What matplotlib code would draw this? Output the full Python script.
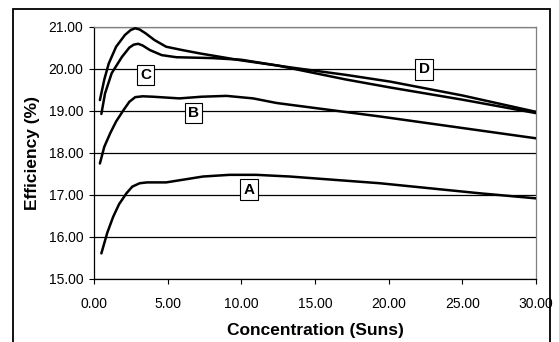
import matplotlib
matplotlib.use("Agg")
import matplotlib.pyplot as plt
from matplotlib.patches import Rectangle

plt.rcParams['font.family'] = ['Liberation Sans', 'DejaVu Sans']

# Curve A
a_x = [0.5, 0.9, 1.3, 1.7, 2.2, 2.6, 3.1, 3.6, 4.9, 7.4, 9.2, 11.0, 13.3, 19.4, 26.2, 30.0]
a_y = [15.61, 16.10, 16.48, 16.78, 17.04, 17.20, 17.28, 17.30, 17.30, 17.44, 17.48, 17.48, 17.44, 17.28, 17.04, 16.92]
# Curve B
b_x = [0.4, 0.7, 1.1, 1.5, 2.0, 2.4, 2.8, 3.3, 4.0, 5.8, 7.3, 9.0, 10.8, 12.4, 19.4, 30.0]
b_y = [17.75, 18.15, 18.47, 18.75, 19.02, 19.22, 19.33, 19.35, 19.34, 19.30, 19.34, 19.36, 19.30, 19.19, 18.87, 18.35]
# Curve C
c_x = [0.5, 0.75, 1.2, 1.9, 2.4, 2.7, 3.0, 3.3, 3.8, 4.6, 5.6, 8.0, 10.0, 12.5, 17.1, 20.1, 25.0, 30.0]
c_y = [18.93, 19.42, 19.90, 20.29, 20.51, 20.58, 20.60, 20.56, 20.45, 20.33, 20.28, 20.26, 20.22, 20.08, 19.75, 19.56, 19.27, 18.95]
# Curve D
d_x = [0.4, 0.7, 1.0, 1.5, 2.1, 2.5, 2.8, 3.1, 3.5, 4.1, 4.9, 6.0, 7.2, 9.9, 13.5, 17.1, 20.1, 25.0, 30.0]
d_y = [19.26, 19.75, 20.13, 20.53, 20.81, 20.93, 20.97, 20.94, 20.85, 20.69, 20.53, 20.45, 20.37, 20.21, 20.03, 19.86, 19.70, 19.37, 18.98]

labels = ['A', 'B', 'C', 'D']
label_x = [10.5, 6.75, 3.5, 22.4]
label_y = [17.13, 18.95, 19.86, 19.99]

x_ticks = [0, 5, 10, 15, 20, 25, 30]
y_ticks = [15, 16, 17, 18, 19, 20, 21]

fig = plt.figure(figsize=(5.59, 3.42), dpi=100)
W, H = 559, 342
ax = fig.add_axes([94 / W, 1 - 279 / H, (536 - 94) / W, (279 - 27) / H])

# outer frame (bottom edge lies just outside the picture)
fig.add_artist(Rectangle((12.5 / W, -5 / H), (549.5 - 12.5) / W, (342 - 8.5 + 5) / H,
                         transform=fig.transFigure, fill=False,
                         edgecolor='black', linewidth=1.3, zorder=10))

for yv in y_ticks:
    ax.axhline(yv, color='black', linewidth=0.9, zorder=1)

for xs, ys in [(a_x, a_y), (b_x, b_y), (c_x, c_y), (d_x, d_y)]:
    ax.plot(xs, ys, color='black', linewidth=1.8, zorder=3,
            solid_joinstyle='round', solid_capstyle='round')

for t, lx, ly in zip(labels, label_x, label_y):
    ax.text(lx, ly, t, ha='center', va='center', fontsize=11, fontweight='bold', zorder=5,
            bbox=dict(boxstyle='square,pad=0.22', facecolor='white', edgecolor='black', linewidth=0.8))

ax.set_xlim(0, 30)
ax.set_ylim(15, 21)
ax.set_xticks(x_ticks)
ax.set_xticklabels([f"{v:.2f}" for v in x_ticks], fontsize=10)
ax.set_yticks(y_ticks)
ax.set_yticklabels([f"{v:.2f}" for v in y_ticks], fontsize=10)
ax.tick_params(axis='x', direction='out', length=3.6, width=0.8, pad=9)
ax.tick_params(axis='y', direction='out', length=3.6, width=0.8, pad=4)

ax.spines['left'].set_color('black')
ax.spines['bottom'].set_color('black')
ax.spines['top'].set_color('#808080')
ax.spines['right'].set_color('#808080')
for s in ax.spines.values():
    s.set_linewidth(0.9)

ax.set_xlabel('Concentration (Suns)', fontsize=12.5, fontweight='bold', labelpad=9)
ax.set_ylabel('Efficiency (%)', fontsize=12.5, fontweight='bold', labelpad=6)

fig.savefig('out.png', dpi=100)
